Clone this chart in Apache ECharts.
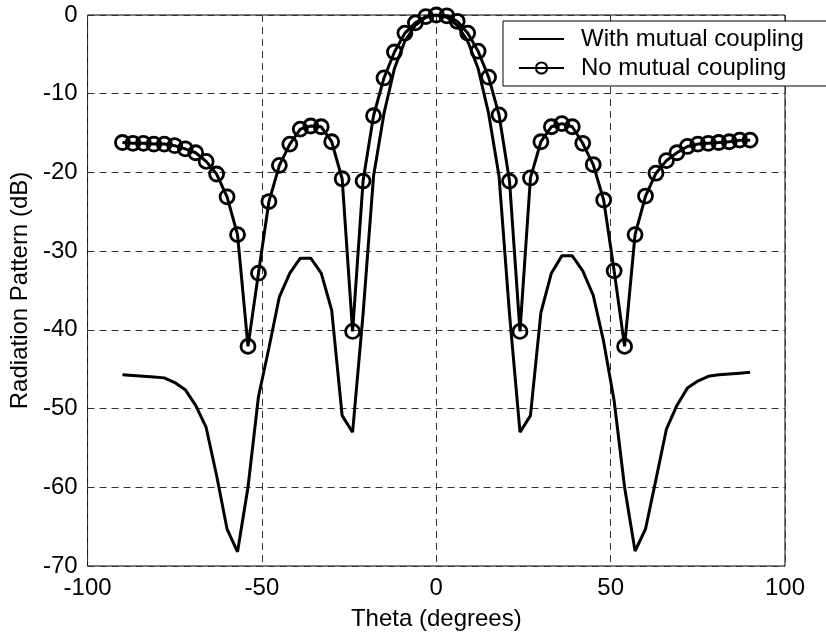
<!DOCTYPE html>
<html>
<head>
<meta charset="utf-8">
<title>Radiation Pattern</title>
<script src="https://cdn.jsdelivr.net/npm/echarts@6/dist/echarts.min.js"></script>
<style>
  html, body { margin: 0; padding: 0; background: #fff; }
  #chart { width: 826px; height: 636px; }
</style>
</head>
<body>
<div id="chart"></div>
<script>
// Observation angles (degrees), 3-degree steps
const theta = [
  -90, -87, -84, -81, -78, -75, -72, -69, -66, -63, -60, -57, -54, -51, -48, -45,
  -42, -39, -36, -33, -30, -27, -24, -21, -18, -15, -12, -9, -6, -3, 0,
  3, 6, 9, 12, 15, 18, 21, 24, 27, 30, 33, 36, 39, 42, 45,
  48, 51, 54, 57, 60, 63, 66, 69, 72, 75, 78, 81, 84, 87, 90
];

// Normalised pattern (dB) including mutual coupling between elements
const withCoupling = [
  -45.7, -45.8, -45.9, -46.0, -46.1, -46.7, -47.6, -49.6, -52.4, -58.5, -65.3, -68.2, -60.0, -48.5, -42.3, -35.8,
  -32.8, -30.9, -30.9, -32.8, -37.5, -50.9, -53.0, -38.0, -20.5, -12.5, -6.8, -3.3, -1.3, -0.3, 0.0,
  -0.3, -1.3, -3.3, -6.8, -12.5, -20.5, -38.0, -53.0, -50.9, -37.8, -32.8, -30.6, -30.6, -32.5, -35.6,
  -41.5, -49.0, -60.0, -68.1, -65.3, -59.0, -52.6, -49.6, -47.4, -46.5, -45.9, -45.7, -45.6, -45.5, -45.4
];

// Normalised pattern (dB) of the ideal array without coupling
const noCoupling = [
  -16.2, -16.3, -16.3, -16.4, -16.4, -16.6, -17.0, -17.5, -18.6, -20.2, -23.1, -27.9, -42.1, -32.8, -23.7, -19.1,
  -16.4, -14.5, -14.1, -14.2, -16.1, -20.8, -40.2, -21.1, -12.8, -8.0, -4.7, -2.3, -1.0, -0.2, 0.0,
  -0.1, -0.8, -2.3, -4.6, -7.9, -12.7, -21.1, -40.2, -20.7, -16.1, -14.2, -13.8, -14.2, -16.3, -19.0,
  -23.5, -32.5, -42.1, -27.9, -23.0, -20.1, -18.5, -17.5, -16.7, -16.4, -16.3, -16.2, -16.1, -15.9, -15.9
];

const xTicks = { min: -100, max: 100, step: 50 };
const yTicks = { min: -70, max: 0, step: 10 };

const seriesNames = ['With mutual coupling', 'No mutual coupling'];

const pairs = (ys) => theta.map((t, i) => [t, ys[i]]);

const font = "'Liberation Sans', Arial, Helvetica, sans-serif";
const gridLine = { show: true, lineStyle: { color: '#333', width: 1, type: [7, 5] } };

const chart = echarts.init(document.getElementById('chart'), null, { renderer: 'canvas' });
chart.setOption({
  animation: false,
  backgroundColor: '#fff',
  textStyle: { fontFamily: font, color: '#000' },
  grid: {
    left: 85, right: 41, top: 15, bottom: 69,
    show: true, borderColor: '#000', borderWidth: 1, backgroundColor: 'transparent'
  },
  legend: {
    data: [
      { name: seriesNames[0], itemStyle: { opacity: 0 } },
      { name: seriesNames[1] }
    ],
    orient: 'vertical',
    left: 503, top: 21,
    padding: [4, 120, 4, 15],
    itemGap: 1,
    itemWidth: 45,
    itemHeight: 14,
    backgroundColor: '#fff',
    borderColor: '#000',
    borderWidth: 1,
    borderRadius: 0,
    textStyle: { fontSize: 24, color: '#000', fontFamily: font, lineHeight: 28, padding: [0, 0, 0, 12] }
  },
  xAxis: {
    type: 'value',
    min: xTicks.min, max: xTicks.max, interval: xTicks.step,
    name: 'Theta (degrees)',
    nameLocation: 'middle',
    nameGap: 41,
    nameTextStyle: { fontSize: 24, color: '#000', fontFamily: font },
    axisLine: { show: false },
    axisTick: { show: false },
    axisLabel: { fontSize: 24, color: '#000', margin: 10, fontFamily: font },
    splitLine: gridLine
  },
  yAxis: {
    type: 'value',
    min: yTicks.min, max: yTicks.max, interval: yTicks.step,
    name: 'Radiation Pattern (dB)',
    nameLocation: 'middle',
    nameGap: 40,
    nameTextStyle: { fontSize: 24, color: '#000', fontFamily: font },
    axisLine: { show: false },
    axisTick: { show: false },
    axisLabel: { fontSize: 24, color: '#000', margin: 10, fontFamily: font },
    splitLine: gridLine
  },
  series: [
    {
      name: seriesNames[0],
      type: 'line',
      data: pairs(withCoupling),
      symbol: 'none',
      lineStyle: { color: '#000', width: 3 },
      itemStyle: { color: '#000' }
    },
    {
      name: seriesNames[1],
      type: 'line',
      data: pairs(noCoupling),
      symbol: 'circle',
      symbolSize: 14,
      lineStyle: { color: '#000', width: 3 },
      itemStyle: { color: 'rgba(0,0,0,0)', borderColor: '#000', borderWidth: 2.8 }
    }
  ]
});
</script>
</body>
</html>
